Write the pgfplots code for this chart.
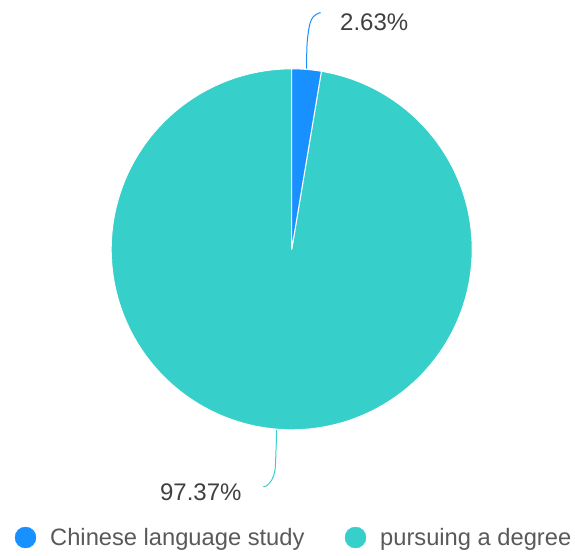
\documentclass[border=0pt]{standalone}
\usepackage{pgfplots}
\pgfplotsset{compat=1.18}
\usepackage{fontspec}
\setmainfont{Liberation Sans}
\definecolor{cblue}{HTML}{1890FF}
\definecolor{cteal}{HTML}{36CFC9}
\definecolor{ctext}{HTML}{404040}
\definecolor{clegend}{HTML}{595959}
\begin{document}
\begin{tikzpicture}
% data (percent)
\pgfmathsetmacro{\va}{2.63}   % Chinese language study
\pgfmathsetmacro{\vb}{97.37}  % pursuing a degree
\pgfmathsetmacro{\aA}{90}
\pgfmathsetmacro{\aB}{90-3.6*\va}
\pgfmathsetmacro{\aC}{\aB-3.6*\vb}
\def\cx{291.7}\def\cy{249.3}\def\rr{180.5}
\begin{axis}[scale only axis, width=575pt, height=555pt,
  xmin=0, xmax=575, ymin=0, ymax=555, y dir=reverse,
  hide axis, clip=false]
% sectors
\addplot[fill=cteal, draw=white, line width=1pt, samples=240, domain=\aC:\aB, variable=\t]
  ({\cx+\rr*cos(t)},{\cy-\rr*sin(t)}) -- (axis cs:\cx,\cy) -- cycle;
\addplot[fill=cblue, draw=white, line width=1pt, samples=20, domain=\aB:\aA, variable=\t]
  ({\cx+\rr*cos(t)},{\cy-\rr*sin(t)}) -- (axis cs:\cx,\cy) -- cycle;
% leader lines
\addplot[cblue, line width=1pt, smooth, tension=0.5] coordinates
  {(306.7,68.5) (306.8,50) (307.7,36.7) (310,23.3) (313.3,16.7) (318.3,13.3) (320.7,12.7)};
\addplot[cteal, line width=1pt, smooth, tension=0.5] coordinates
  {(276.7,430) (276,450) (275,470) (271.7,480) (266.7,485.7) (263.3,486.7)};
% labels
\node[anchor=base west, inner sep=0, text=ctext, font=\fontsize{24}{28}\selectfont] at (axis cs:340,30) {2.63\%};
\node[anchor=base east, inner sep=0, text=ctext, font=\fontsize{24}{28}\selectfont] at (axis cs:241.7,500) {97.37\%};
% legend
\addplot[only marks, mark=*, mark size=10.5pt, mark options={draw=cblue, fill=cblue}] coordinates {(25.5,537.5)};
\addplot[only marks, mark=*, mark size=10.5pt, mark options={draw=cteal, fill=cteal}] coordinates {(355.5,537.5)};
\node[anchor=base west, inner sep=0, text=clegend, font=\fontsize{23.7}{28}\selectfont] at (axis cs:50,545) {Chinese language study};
\node[anchor=base west, inner sep=0, text=clegend, font=\fontsize{23.7}{28}\selectfont] at (axis cs:380,545) {pursuing a degree};
\end{axis}
\pgfresetboundingbox
\useasboundingbox (current axis.south west) rectangle (current axis.north east);
\end{tikzpicture}
\end{document}
